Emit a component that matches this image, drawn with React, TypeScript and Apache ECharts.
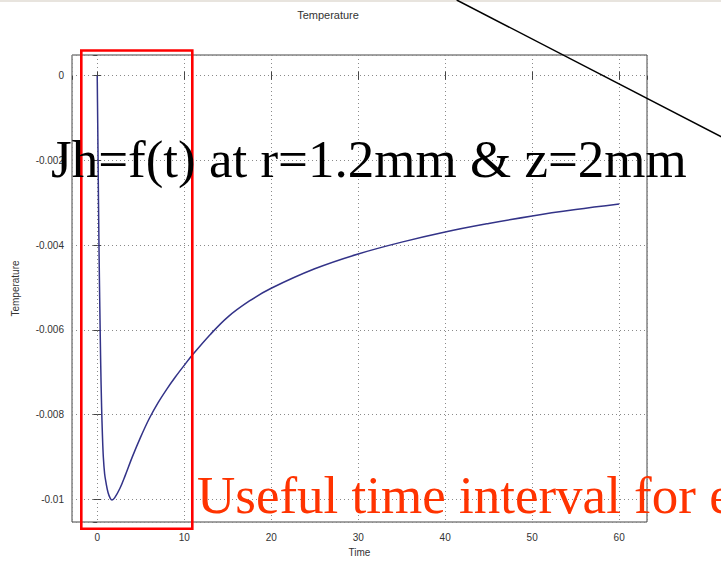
import React, { useEffect, useRef } from "react";
import * as echarts from "echarts";

// Time values (s) and temperature values
const times = [
  0, 0.05, 0.1, 0.2, 0.3, 0.4, 0.5, 0.6, 0.7, 0.85, 1.0, 1.25, 1.5, 1.7, 2.0,
  2.6, 3.2, 4, 5, 6, 7, 8, 9, 10, 11, 13, 15, 17.5, 20, 25, 30, 35, 40, 45, 50,
  55, 60,
];
const temps = [
  0, -0.001, -0.002, -0.004, -0.0055, -0.0068, -0.0078, -0.0085, -0.009,
  -0.0094, -0.0096, -0.00985, -0.00998, -0.01002, -0.00997, -0.00975, -0.00945,
  -0.00902, -0.00853, -0.00809, -0.00772, -0.0074, -0.00711, -0.00684,
  -0.00658, -0.00611, -0.0057, -0.00532, -0.00502, -0.00456, -0.00421,
  -0.00393, -0.00369, -0.00349, -0.00331, -0.00316, -0.00303,
];

const titleText = "Temperature";
const xName = "Time";
const yName = "Temperature";
const overlayTitle = "Jh=f(t) at r=1.2mm & z=2mm";
const overlayNote = "Useful time interval for e";

export default function App() {
  const ref = useRef<HTMLDivElement>(null);
  useEffect(() => {
    if (!ref.current) return;
    const chart = echarts.init(ref.current, null, { renderer: "svg" });
    const data = times.map((t, i) => [t, temps[i]]);
    const tickFont = {
      fontFamily: "Liberation Sans, Arial, sans-serif",
      fontSize: 10,
      color: "#333",
    };
    const gridLine = {
      show: true,
      lineStyle: { color: "#8a8a8a", type: [1, 3] as any, width: 1 },
    };
    chart.setOption({
      animation: false,
      backgroundColor: "#ffffff",
      grid: {
        left: 72,
        right: 74,
        top: 55,
        bottom: 41,
        show: true,
        borderColor: "#444",
        borderWidth: 1,
        backgroundColor: "transparent",
      },
      xAxis: [
        {
          type: "value",
          min: -2.9,
          max: 63.2,
          splitNumber: 6,
          position: "bottom",
          axisLine: { show: false },
          axisTick: { show: true, inside: true, length: 4, lineStyle: { color: "#444" } },
          axisLabel: { ...tickFont, margin: 10, showMinLabel: false, showMaxLabel: false },
          splitLine: gridLine,
          name: xName,
          nameLocation: "middle",
          nameGap: 25,
          nameTextStyle: { ...tickFont },
        },
        {
          type: "value",
          min: -2.9,
          max: 63.2,
          splitNumber: 6,
          position: "top",
          axisLine: { show: false },
          axisTick: { show: true, inside: true, length: 4, lineStyle: { color: "#444" } },
          axisLabel: { show: false },
          splitLine: { show: false },
        },
      ],
      yAxis: [
        {
          type: "value",
          min: -0.01054,
          max: 0.00049,
          splitNumber: 5,
          position: "left",
          axisLine: { show: false },
          axisTick: { show: true, inside: true, length: 4, lineStyle: { color: "#444" } },
          axisLabel: { ...tickFont, margin: 8, showMinLabel: false, showMaxLabel: false },
          splitLine: gridLine,
          name: yName,
          nameLocation: "middle",
          nameGap: 52,
          nameRotate: 90,
          nameTextStyle: { ...tickFont },
        },
        {
          type: "value",
          min: -0.01054,
          max: 0.00049,
          splitNumber: 5,
          position: "right",
          axisLine: { show: false },
          axisTick: { show: true, inside: true, length: 4, lineStyle: { color: "#444" } },
          axisLabel: { show: false },
          splitLine: { show: false },
        },
      ],
      series: [
        {
          type: "line",
          data,
          xAxisIndex: 0,
          yAxisIndex: 0,
          showSymbol: false,
          smooth: 0.35,
          lineStyle: { color: "#333388", width: 1.5 },
          z: 3,
        },
      ],
      graphic: [
        {
          type: "rect",
          shape: { x: 0, y: 0, width: 721, height: 2 },
          style: { fill: "#e8e4de" },
          z: 100,
        },
        {
          type: "text",
          x: 328,
          y: 15,
          style: {
            text: titleText,
            fontFamily: "Liberation Sans, Arial, sans-serif",
            fontSize: 11,
            fill: "#333",
            align: "center",
            verticalAlign: "middle",
          },
          z: 100,
        },
        {
          type: "text",
          x: 51,
          y: 158.5,
          style: {
            text: overlayTitle,
            fontFamily: "Liberation Serif, Times New Roman, serif",
            fontSize: 53,
            fill: "#000",
            align: "left",
            verticalAlign: "middle",
          },
          z: 110,
        },
        {
          type: "text",
          x: 197,
          y: 495,
          style: {
            text: overlayNote,
            fontFamily: "Liberation Serif, Times New Roman, serif",
            fontSize: 53,
            fill: "#ff3300",
            align: "left",
            verticalAlign: "middle",
          },
          z: 110,
        },
        {
          type: "rect",
          shape: { x: 81.3, y: 50.5, width: 111, height: 478.2 },
          style: { fill: "none", stroke: "#ff0000", lineWidth: 2.6 },
          z: 105,
        },
        {
          type: "line",
          shape: { x1: 456.7, y1: 0, x2: 740, y2: 146.5 },
          style: { stroke: "#000", lineWidth: 1.5 },
          z: 105,
        },
      ],
    });
    return () => chart.dispose();
  }, []);
  return (
    <div
      ref={ref}
      style={{ position: "fixed", left: 0, top: 0, width: 721, height: 563 }}
    />
  );
}
